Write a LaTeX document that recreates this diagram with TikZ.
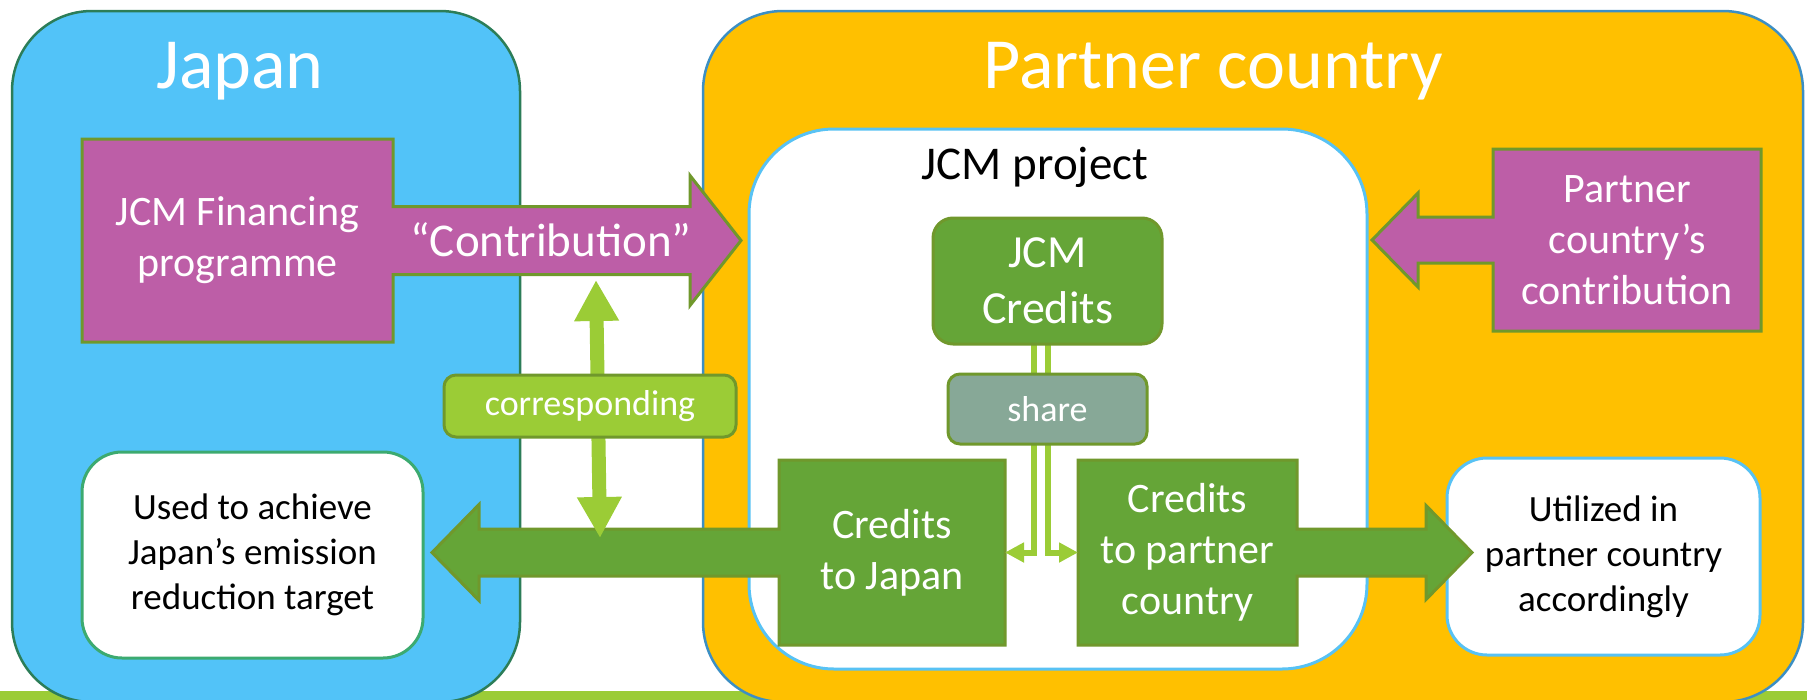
\documentclass[tikz,border=0pt]{standalone}
\usepackage{fontspec}
\setmainfont{Carlito}
\usetikzlibrary{arrows.meta,positioning,calc,backgrounds}

\definecolor{skyfill}{RGB}{82,195,248}
\definecolor{skyline}{RGB}{44,125,88}
\definecolor{goldfill}{RGB}{255,192,0}
\definecolor{goldline}{RGB}{60,143,196}
\definecolor{paleblue}{RGB}{88,194,244}
\definecolor{magfill}{RGB}{189,94,167}
\definecolor{oliveline}{RGB}{112,152,44}
\definecolor{leafgreen}{RGB}{101,165,55}
\definecolor{limegreen}{RGB}{155,204,54}
\definecolor{sagefill}{RGB}{135,168,151}
\definecolor{mintline}{RGB}{60,170,112}

\pgfdeclarelayer{back}
\pgfdeclarelayer{shapes}
\pgfsetlayers{back,shapes,main}

\begin{document}
\begin{tikzpicture}[x=1pt, y=-1pt,
  every node/.style={outer sep=0pt},
  country/.style={rectangle, rounded corners=80pt, line width=2.5pt},
  heading/.style={text=white, inner sep=0pt, font=\fontsize{72}{88}\selectfont},
  project/.style={rectangle, rounded corners=85pt, draw=paleblue, fill=white, line width=3pt},
  result/.style={rectangle, rounded corners=40pt, fill=white, line width=3pt,
                 align=center, font=\fontsize{37}{45}\selectfont},
  bodytext/.style={rectangle, inner sep=0pt, align=center, text=white,
                   font=\fontsize{42}{51}\selectfont},
  callout/.style={line width=3pt, draw=oliveline, line join=miter},
  credits/.style={rectangle, rounded corners=20pt, draw=oliveline, fill=leafgreen,
                  line width=3pt, text=white, align=center, font=\fontsize{46}{56}\selectfont},
  sharebox/.style={rectangle, rounded corners=12pt, draw=oliveline, line width=3pt,
                   text=white, font=\fontsize{36}{44}\selectfont},
  sharearrow/.style={-{Triangle[length=19pt,width=19pt]}, line width=6pt, limegreen},
  corrarrow/.style={{Triangle[length=41pt,width=42pt]}-{Triangle[length=41pt,width=42pt]},
                    line width=14pt, limegreen}
]
\useasboundingbox (0,0) rectangle (1807,699);

% Country panels and the boxes sitting in them
\begin{pgfonlayer}{back}
  \fill[limegreen] (0,691) rectangle (1807,720);
  \node[country, fill=skyfill, draw=skyline, minimum width=508pt, minimum height=691pt] (japan) at (266,356.5) {};
  \node[country, fill=goldfill, draw=goldline, minimum width=1100pt, minimum height=691pt] (partner) at (1253,356.5) {};
  \node[project, minimum width=618pt, minimum height=540pt] (proj) at (1058,399) {};
  \node[result, draw=mintline, minimum width=341pt, minimum height=206pt] (used) at (252.5,555)
    {Used to achieve\\Japan’s emission\\reduction target};
  \node[result, draw=paleblue, minimum width=313pt, minimum height=197pt] (util) at (1603.5,556.5)
    {Utilized in\\partner country\\accordingly};
\end{pgfonlayer}

% Titles
\node[heading, anchor=base] (japtitle) at (240,88) {Japan};
\node[heading, anchor=base] (partitle) at (1213,88) {Partner country};
\node[anchor=base, font=\fontsize{47}{57}\selectfont] (projtitle) at (1035,179) {JCM project};

% Box texts of the arrow callouts
\node[bodytext, minimum width=311pt, minimum height=203pt] (fin) at (237.5,240.5) {JCM Financing\\programme};
\node[bodytext, font=\fontsize{47}{57}\selectfont] (contrib) at (551,240) {“Contribution”};
\node[bodytext, minimum width=268pt, minimum height=182pt] (pcon) at (1627,240) {Partner\\country’s\\contribution};
\node[bodytext, minimum width=226pt, minimum height=185pt] (cj) at (892,552.5) {Credits\\to Japan};
\node[bodytext, minimum width=219pt, minimum height=185pt, right=73pt of cj] (cp) {Credits\\to partner\\country};
\node[credits, minimum width=229pt, minimum height=126pt] (cred) at (1047.5,281) {JCM\\Credits};
\node[sharebox, fill=sagefill, minimum width=199pt, minimum height=70pt, below=30pt of cred] (share) {share};

\coordinate (fintip) at ($(fin.east -| proj.west)+(-8,0)$);
\coordinate (pcontip) at ($(pcon.west -| proj.east)+(5,0)$);
\coordinate (cjtip) at ($(cj.west -| used.east)+(9,0)$);
\coordinate (cptip) at ($(cp.east -| util.west)+(25,0)$);

% Callout outlines (box + shaft + head in one path), then the share lines
\begin{pgfonlayer}{shapes}
  \filldraw[callout, fill=magfill] (fin.north west) -- (fin.north east) -- ($(fin.east)+(0,-34)$)
    -- ($(fintip)+(-51,-34)$) -- ($(fintip)+(-51,-65)$) -- (fintip)
    -- ($(fintip)+(-51,65)$) -- ($(fintip)+(-51,34)$) -- ($(fin.east)+(0,34)$)
    -- (fin.south east) -- (fin.south west) -- cycle;
  \filldraw[callout, fill=magfill] (pcon.north west) -- (pcon.north east) -- (pcon.south east)
    -- (pcon.south west) -- ($(pcon.west)+(0,23)$) -- ($(pcontip)+(46,23)$)
    -- ($(pcontip)+(46,47)$) -- (pcontip) -- ($(pcontip)+(46,-47)$)
    -- ($(pcontip)+(46,-23)$) -- ($(pcon.west)+(0,-23)$) -- cycle;
  \filldraw[callout, fill=leafgreen] (cj.north east) -- (cj.north west) -- ($(cj.west)+(0,-23.5)$)
    -- ($(cjtip)+(47,-23.5)$) -- ($(cjtip)+(47,-48)$) -- (cjtip)
    -- ($(cjtip)+(47,48)$) -- ($(cjtip)+(47,23.5)$) -- ($(cj.west)+(0,23.5)$)
    -- (cj.south west) -- (cj.south east) -- cycle;
  \filldraw[callout, fill=leafgreen] (cp.north west) -- (cp.north east) -- ($(cp.east)+(0,-23.5)$)
    -- ($(cptip)+(-46,-23.5)$) -- ($(cptip)+(-46,-47)$) -- (cptip)
    -- ($(cptip)+(-46,47)$) -- ($(cptip)+(-46,23.5)$) -- ($(cp.east)+(0,23.5)$)
    -- (cp.south east) -- (cp.south west) -- cycle;

  \draw[sharearrow] ($(cred.south)+(-14,0)$) |- (cj.east);
  \draw[sharearrow] (cred.south) |- (cp.west);
\end{pgfonlayer}

% Correspondence between contribution and credits
\coordinate (corrtop) at (596,280);
\coordinate (corrbot) at (600,538);
\draw[corrarrow] (corrtop) -- (corrbot);
\node[sharebox, fill=limegreen, minimum width=292pt, minimum height=62pt] (corr) at (590,406) {corresponding};

\end{tikzpicture}
\end{document}
